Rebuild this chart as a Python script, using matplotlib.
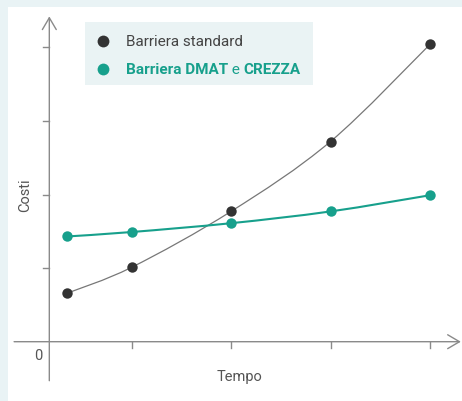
import numpy as np
import matplotlib
matplotlib.use("Agg")
import matplotlib.pyplot as plt
from matplotlib.path import Path
from matplotlib.patches import PathPatch, Rectangle

# --- data ---
tempo = [0.355, 1, 2, 3, 4]
costi_standard = [0.66, 1.01, 1.77, 2.72, 4.04]
costi_dmat = [1.43, 1.49, 1.61, 1.77, 1.99]
x_ticks = [1, 2, 3, 4]
y_ticks = [1, 2, 3, 4]
legend_labels = ["Barriera standard", ["Barriera DMAT", " e ", "CREZZA"]]

DARK = "#333333"
TEAL = "#17a08c"
AXIS = "#8a8a8a"
TXT = "#555555"
W, H = 462, 402

plt.rcParams['font.family'] = ['Roboto', 'DejaVu Sans']


def smooth_path(xs, ys):
    # catmull-rom through the points, drawn as cubic bezier segments
    p = np.column_stack([xs, ys]).astype(float)
    p_ext = np.vstack([p[0], p, p[-1]])
    verts = [p[0]]
    codes = [Path.MOVETO]
    for i in range(1, len(p_ext) - 2):
        p0, p1, p2, p3 = p_ext[i - 1], p_ext[i], p_ext[i + 1], p_ext[i + 2]
        verts += [p1 + (p2 - p0) / 6, p2 - (p3 - p1) / 6, p2]
        codes += [Path.CURVE4] * 3
    return Path(verts, codes)


fig = plt.figure(figsize=(W / 100, H / 100), dpi=100)
fig.patch.set_facecolor("#e9f3f5")
fig.patches.append(Rectangle((8 / W, 0), 1, 1 - 8 / H, transform=fig.transFigure,
                             facecolor="white", edgecolor="none", zorder=-5))

ax = fig.add_axes([0, 0, 1, 1])
ax.set_facecolor("none")
ax.axis("off")
# pixel mapping: x=0 at px 32, 99.5 px per unit; y=0 at px 342.7 from top, 73.6 px per unit
ax.set_xlim(-32 / 99.5, (W - 32) / 99.5)
ax.set_ylim(-(H - 342.7) / 73.6, 342.7 / 73.6)

yax = 0.174
# axes with open arrow heads
arrow = dict(arrowstyle="->,head_length=0.85,head_width=0.5", color=AXIS, lw=1,
             shrinkA=0, shrinkB=0)
ax.annotate("", xy=(yax, 4.42), xytext=(yax, -0.53), arrowprops=arrow)
ax.annotate("", xy=(4.31, 0), xytext=(-0.18, 0), arrowprops=arrow)

for t in x_ticks:
    ax.plot([t, t], [0, -0.08], color=AXIS, lw=1)
for t in y_ticks:
    ax.plot([yax - 0.065, yax], [t, t], color=AXIS, lw=1)

ax.text(0.06, -0.18, "0", color=TXT, fontsize=10.5, ha="center", va="center")
ax.text(2.08, -0.47, "Tempo", color=TXT, fontsize=10.5, ha="center", va="center")
ax.text(-0.07, 2.0, "Costi", color=TXT, fontsize=10.5, ha="center", va="center", rotation=90)

# series
ax.add_patch(PathPatch(smooth_path(tempo, costi_standard), facecolor="none",
                       edgecolor="#777777", lw=0.9, zorder=2))
ax.plot(tempo, costi_standard, "o", color=DARK, ms=7.5, mec="none", zorder=3)
ax.add_patch(PathPatch(smooth_path(tempo, costi_dmat), facecolor="none",
                       edgecolor=TEAL, lw=1.5, zorder=2))
ax.plot(tempo, costi_dmat, "o", color=TEAL, ms=7.5, mec="none", zorder=3)

# legend box drawn by hand (mixed bold / regular text)
fig.patches.append(Rectangle((85 / W, 1 - 86 / H), (313 - 85) / W, (86 - 23) / H,
                             transform=fig.transFigure, facecolor="#eaf3f4",
                             edgecolor="none", zorder=1))
fig.lines.append(plt.Line2D([103 / W], [1 - 41.5 / H], marker="o", ms=8.5, color=DARK,
                            mec="none", transform=fig.transFigure, zorder=2))
fig.lines.append(plt.Line2D([103 / W], [1 - 70 / H], marker="o", ms=8.5, color=TEAL,
                            mec="none", transform=fig.transFigure, zorder=2))
fig.text(126 / W, 1 - 41.5 / H, legend_labels[0], color="#444444", fontsize=11,
         va="center", ha="left", zorder=2)

fig.canvas.draw()
renderer = fig.canvas.get_renderer()
x = 126
for i, piece in enumerate(legend_labels[1]):
    t = fig.text(x / W, 1 - 70 / H, piece, color=TEAL, fontsize=11, va="center",
                 ha="left", fontweight="bold" if i != 1 else "normal", zorder=2)
    x += t.get_window_extent(renderer).width

fig.savefig("out.png", dpi=100, facecolor=fig.get_facecolor())
